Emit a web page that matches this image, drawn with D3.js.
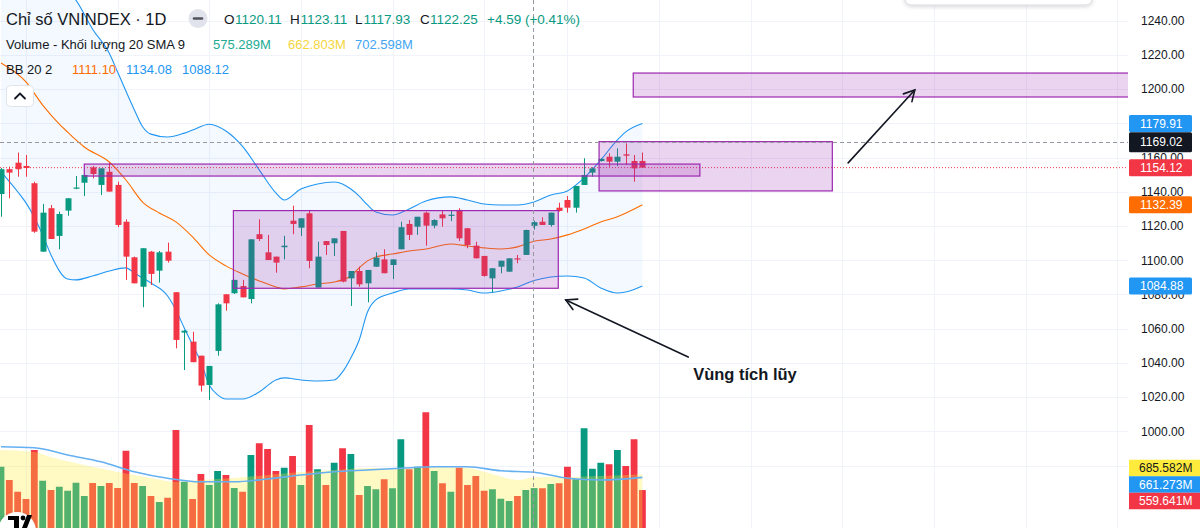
<!DOCTYPE html>
<html><head><meta charset="utf-8">
<script src="https://cdn.jsdelivr.net/npm/d3@7"></script>
<style>
body{margin:0;background:#fff;overflow:hidden;}
svg{display:block;font-family:"Liberation Sans",Arial,sans-serif;}
</style>
</head><body>
<svg id="c" width="1200" height="528"></svg>
<script>
// ---------------- DATA ----------------
const opens  = [1138.7,1153.2,1157.0,1155.1,1145.0,1105.0,1130.4,1114.2,1129.0,1142.2,1145.3,1154.3,1144.0,1151.7,1144.0,1122.5,1101.7,1084.5,1105.0,1093.9,1105.0,1081.3,1057.7,1052.4,1044.2,1027.1,1047.0,1080.1,1080.7,1084.9,1077.3,1115.2,1104.6,1102.1,1107.6,1123.1,1119.0,1127.4,1084.0,1111.2,1109.9,1117.1,1089.4,1093.7,1086.5,1096.2,1100.5,1097.2,1106.4,1121.2,1119.6,1127.8,1120.2,1126.8,1126.3,1129.4,1118.7,1108.5,1102.5,1089.4,1096.2,1093.3,1101.1,1103.1,1120.11,1122.5,1120.6,1130.7,1135.2,1130.7,1144.0,1151.2,1158.0,1160.5,1157.6,1161.9,1158.0,1158.0];
const highs  = [1153.9,1154.7,1162.9,1161.5,1145.9,1132.9,1132.3,1128.4,1136.2,1149.2,1149.8,1155.1,1153.7,1157.0,1145.9,1123.9,1102.1,1107.0,1105.4,1105.4,1110.3,1081.3,1059.2,1058.2,1044.2,1038.2,1074.8,1080.1,1088.5,1088.5,1112.2,1123.9,1114.8,1102.1,1114.3,1131.9,1124.5,1128.8,1110.8,1111.2,1112.8,1117.1,1093.7,1096.2,1094.3,1104.6,1106.4,1100.5,1122.5,1123.5,1125.4,1128.4,1123.9,1128.8,1128.8,1130.4,1118.7,1110.8,1102.5,1095.3,1099.7,1101.1,1103.1,1117.9,1123.11,1125.1,1127.8,1133.6,1137.5,1143.4,1159.6,1154.3,1159.6,1162.5,1165.4,1168.3,1161.5,1162.9];
const lows   = [1125.4,1136.2,1148.8,1148.8,1116.0,1105.0,1112.4,1106.4,1126.0,1141.5,1137.5,1147.9,1138.1,1140.1,1119.3,1088.5,1086.5,1072.5,1085.5,1086.9,1098.6,1048.5,1035.8,1040.4,1023.2,1018.3,1044.2,1070.5,1080.3,1078.3,1074.8,1111.2,1100.1,1092.7,1100.5,1115.2,1114.2,1095.3,1084.0,1103.1,1102.5,1087.1,1073.3,1084.5,1075.4,1096.2,1092.4,1089.0,1106.4,1111.8,1114.8,1108.5,1118.7,1119.6,1122.9,1111.2,1107.0,1101.1,1090.4,1081.1,1092.4,1093.3,1098.2,1103.1,1117.93,1120.6,1119.6,1128.4,1127.8,1127.8,1144.0,1148.8,1157.6,1154.7,1155.1,1155.7,1145.9,1154.0];
const closes = [1153.2,1151.2,1153.2,1153.9,1116.7,1127.8,1112.4,1127.0,1136.2,1142.5,1149.8,1150.4,1153.7,1140.1,1120.6,1102.1,1086.5,1107.0,1092.0,1104.6,1099.7,1053.4,1058.8,1040.4,1026.7,1038.2,1074.2,1074.8,1088.5,1078.3,1112.2,1112.4,1100.1,1098.6,1108.5,1121.2,1124.5,1099.6,1102.1,1108.9,1112.8,1087.5,1093.7,1085.9,1094.3,1101.5,1092.4,1100.5,1119.3,1114.8,1125.4,1120.2,1123.5,1124.5,1126.6,1112.8,1108.9,1101.1,1090.8,1095.3,1099.7,1101.1,1100.7,1117.66,1122.25,1120.6,1127.8,1128.8,1130.7,1143.4,1149.8,1153.7,1159.2,1157.6,1160.5,1161.1,1153.7,1154.12];
// volume in millions
const volumes = [746,640,546,488,880,634,560,586,554,618,512,616,592,616,576,874,616,592,512,464,498,1040,626,488,688,600,712,680,576,546,840,934,888,712,738,832,600,1080,726,600,778,894,848,520,592,566,646,574,966,726,746,1182,712,614,546,738,600,672,554,566,490,472,512,560,575.289,574,608,614,746,646,1054,730,778,766,880,752,966,559.641];

// Bollinger bands
const upperIdx = [0,4,7,9,11,13,14,16,17,18,20,22,23,25,27,29,31,33,34,36,38,40,41,42,43,44,45,47,49,51,54,56,58,60,62,64,66,68,70,72,74,75,77];
const upperVal = [1276,1263,1262,1252,1235,1221,1210,1188,1178,1173.7,1172.0,1174.3,1176.1,1179.5,1175.5,1166.5,1152.8,1139.3,1135.2,1141.6,1144.6,1145.7,1144.6,1141.6,1137.5,1132.3,1128.2,1126.4,1130.0,1134.6,1137.0,1135.2,1132.9,1132.3,1132.3,1134.08,1138.1,1140.5,1148.1,1158.6,1170.3,1175.0,1179.91];
const basisIdx = [0,3,5,7,8,9,10,13,15,17,19,21,23,25,27,29,31,33,34,36,38,40,41,42,43,44,45,47,49,51,54,56,58,60,62,64,66,68,70,72,74,77];
const basisVal = [1215.3,1204.2,1190.7,1179.6,1174.9,1170.3,1166.2,1157.4,1146.9,1134.0,1127.6,1122.4,1113.6,1103.1,1096.7,1092.0,1087.9,1084.4,1083.2,1084.4,1086.1,1087.3,1088.5,1090.8,1095.5,1099.6,1101.9,1103.6,1105.4,1106.6,1109.5,1108.3,1107.2,1106.6,1107.8,1111.10,1112.4,1114.8,1118.3,1122.4,1125.4,1132.39];
const lowerIdx = [0,2,3,5,6,8,9,11,13,15,16,18,20,21,22,23,24,25,26,27,29,31,33,34,36,38,40,41,42,43,44,45,47,49,51,54,56,58,60,62,64,66,68,70,72,74,75,77];
const lowerVal = [1151.6,1140.0,1133.5,1114.8,1103.1,1089.0,1088.5,1090.8,1093.7,1095.5,1092.5,1086.7,1079.1,1070.9,1060.4,1050.5,1040.5,1027.1,1021.3,1018.9,1018.9,1023.0,1030.0,1031.2,1030.0,1029.4,1030.0,1034.7,1042.9,1053.4,1069.7,1076.8,1080.8,1083.2,1083.2,1083.2,1082.6,1080.8,1082.0,1084.4,1088.12,1090.2,1090.8,1089.6,1083.8,1080.8,1081.4,1084.88];

// Volume moving averages (millions)
const volBlueIdx = [0,4,8,12,16,20,24,28,32,36,40,44,48,52,56,60,64,68,72,77];
const volBlue    = [906,898,840,786,706,654,626,626,648,680,706,720,734,746,746,714,702.598,654,640,661.273];
const volYellowIdx = [0,4,6,10,14,18,21,24,28,32,36,40,44,48,52,56,59,62,64,68,72,77];
const volYellow    = [880,864,824,760,704,656,624,640,656,680,704,720,736,736,744,736,688,640,662.803,664,672,685.582];

const priceTicks = [980,1000,1020,1040,1060,1080,1100,1120,1140,1160,1180,1200,1220,1240];
const timeGridIdx = [3,14,25,36,47,58,68,79,90,101,112,123,134];

// Crosshair
const crossIdx = 64;
const crossPrice = 1169.02;

// Drawings: [startIdx, endIdx, topPrice, bottomPrice]
const boxes = [
  [10, 83.9, 1156.2, 1149.2],
  [27.9, 66.9, 1129.0, 1083.6],
  [71.8, 99.8, 1169.3, 1140.5],
  [75.9, 140, 1209.4, 1195.4]
];
const arrowFrom = [[101.7, 1156.9], [82.5, 1043.4]];
const arrowTo   = [[109.7, 1199.5], [67.8, 1076.8]];
const noteText = "Vùng tích lũy";
const notePos = [83.1, 1030.0];

// ---------------- CHART ----------------
const PANE_R = 1128, H = 528;
const GREEN = "#089981", RED = "#f23645", BLUE = "#2196f3", ORANGE = "#ff6d00", TXT = "#131722";
const svg = d3.select("#c");
const x = d3.scaleLinear().domain([0, 77]).range([1.0, 642.4]);
const y = d3.scaleLinear().domain([1000, 1240]).range([431.3, 20.7]);
const yv = d3.scaleLinear().domain([0, 1000]).range([560, 435]);

const defs = svg.append("defs");
defs.append("clipPath").attr("id","pane").append("rect").attr("x",0).attr("y",0).attr("width",PANE_R).attr("height",H);
const f = defs.append("filter").attr("id","sh").attr("x","-30%").attr("y","-30%").attr("width","160%").attr("height","160%");
f.append("feDropShadow").attr("dx",0).attr("dy",1).attr("stdDeviation",2).attr("flood-color","#000").attr("flood-opacity",0.18);

const pane = svg.append("g").attr("clip-path","url(#pane)");

// grid
pane.append("g").selectAll("line").data(priceTicks).join("line")
  .attr("x1",0).attr("x2",PANE_R).attr("y1",d=>Math.round(y(d))+0.5).attr("y2",d=>Math.round(y(d))+0.5)
  .attr("stroke","#f0f3fa").attr("stroke-width",1);
pane.append("g").selectAll("line").data(timeGridIdx).join("line")
  .attr("x1",d=>Math.round(x(d))+0.5).attr("x2",d=>Math.round(x(d))+0.5).attr("y1",0).attr("y2",H)
  .attr("stroke","#f0f3fa").attr("stroke-width",1);

// BB fill
const pts = (idx, vals, sc) => idx.map((d,i)=>[x(d), sc(vals[i])]);
const lineGen = d3.line().curve(d3.curveMonotoneX);
const upPts = pts(upperIdx, upperVal, y), loPts = pts(lowerIdx, lowerVal, y), midPts = pts(basisIdx, basisVal, y);
const upD = lineGen(upPts);
const loRevD = lineGen(loPts.slice().reverse());
pane.append("path").attr("d", upD + loRevD.replace(/^M/,"L") + "Z").attr("fill","rgba(33,150,243,0.055)");

// volume bars
const idxs = d3.range(opens.length);
pane.append("g").selectAll("rect").data(idxs).join("rect")
  .attr("x", i=>x(i)-3.4).attr("width",6.8)
  .attr("y", i=>yv(volumes[i])).attr("height", i=>yv(0)-yv(volumes[i]))
  .attr("fill", i=> closes[i]>=opens[i] ? GREEN : RED);

// volume yellow MA area
const yelArea = d3.area().curve(d3.curveMonotoneX).x(d=>d[0]).y0(yv(0)).y1(d=>d[1]);
const yelPts = pts(volYellowIdx, volYellow, yv);
yelPts[0][0] = 0;
pane.append("path").attr("d", yelArea(yelPts)).attr("fill","#ffeb3b").attr("opacity",0.3);
// volume blue MA line
pane.append("path").attr("d", lineGen(pts(volBlueIdx, volBlue, yv))).attr("fill","none")
  .attr("stroke","#64b0f2").attr("stroke-width",1.6);

// BB lines
pane.append("path").attr("d", upD).attr("fill","none").attr("stroke",BLUE).attr("stroke-width",1.1);
pane.append("path").attr("d", lineGen(loPts)).attr("fill","none").attr("stroke",BLUE).attr("stroke-width",1.1);
pane.append("path").attr("d", lineGen(midPts)).attr("fill","none").attr("stroke",ORANGE).attr("stroke-width",1.1);

// candles
const cg = pane.append("g");
idxs.forEach(i=>{
  const col = closes[i]>=opens[i] ? GREEN : RED;
  const cx = Math.round(x(i));
  cg.append("line").attr("x1",cx+0.5).attr("x2",cx+0.5).attr("y1",y(highs[i])).attr("y2",y(lows[i]))
    .attr("stroke",col).attr("stroke-width",1);
  const t = y(Math.max(opens[i],closes[i])), b = y(Math.min(opens[i],closes[i]));
  cg.append("rect").attr("x",cx-2.5).attr("width",6).attr("y",t).attr("height",Math.max(1.2,b-t)).attr("fill",col);
});

// last price dotted line
pane.append("line").attr("x1",0).attr("x2",PANE_R).attr("y1",y(closes[closes.length-1])).attr("y2",y(closes[closes.length-1]))
  .attr("stroke",RED).attr("stroke-width",1).attr("stroke-dasharray","1,2");

// drawings: rectangles
pane.append("g").selectAll("rect").data(boxes).join("rect")
  .attr("x",d=>x(d[0])).attr("width",d=>x(d[1])-x(d[0]))
  .attr("y",d=>y(d[2])).attr("height",d=>y(d[3])-y(d[2]))
  .attr("fill","rgba(156,39,176,0.2)").attr("stroke","#9c27b0").attr("stroke-width",1.2);

// arrows
arrowFrom.forEach((a,k)=>{
  const x1=x(a[0]), y1=y(a[1]), x2=x(arrowTo[k][0]), y2=y(arrowTo[k][1]);
  const ang = Math.atan2(y2-y1, x2-x1), L = 12, sp = 0.5;
  const g = pane.append("g").attr("stroke",TXT).attr("stroke-width",1.6).attr("fill","none").attr("stroke-linecap","round");
  g.append("line").attr("x1",x1).attr("y1",y1).attr("x2",x2).attr("y2",y2);
  g.append("path").attr("d",`M${x2-L*Math.cos(ang-sp)},${y2-L*Math.sin(ang-sp)}L${x2},${y2}L${x2-L*Math.cos(ang+sp)},${y2-L*Math.sin(ang+sp)}`);
});
pane.append("text").attr("x",x(notePos[0])).attr("y",y(notePos[1])).text(noteText)
  .attr("font-size",16.5).attr("font-weight","bold").attr("fill",TXT);

// crosshair
pane.append("line").attr("x1",Math.round(x(crossIdx))-0.5).attr("x2",Math.round(x(crossIdx))-0.5).attr("y1",0).attr("y2",H)
  .attr("stroke","#9598a1").attr("stroke-width",1).attr("stroke-dasharray","4,3");
pane.append("line").attr("x1",0).attr("x2",PANE_R).attr("y1",Math.round(y(crossPrice))+0.5).attr("y2",Math.round(y(crossPrice))+0.5)
  .attr("stroke","#9598a1").attr("stroke-width",1).attr("stroke-dasharray","4,3");

// top-right popup edge
svg.append("rect").attr("x",905).attr("y",-14).attr("width",187).attr("height",19).attr("rx",6)
  .attr("fill","#fff").attr("stroke","#d6d9e0").attr("filter","url(#sh)");

// TradingView logo
const lg = svg.append("g");
lg.append("circle").attr("cx",17).attr("cy",531).attr("r",19).attr("fill","#fff").attr("filter","url(#sh)");
lg.append("path").attr("d","M8,516H19V528H14V520H8Z").attr("fill","#000");
lg.append("circle").attr("cx",23).attr("cy",518).attr("r",2.4).attr("fill","#000");
lg.append("path").attr("d","M27,515H32L27,528H22Z").attr("fill","#000");

// price axis
svg.append("g").selectAll("text").data(priceTicks).join("text")
  .attr("x",1141).attr("y",d=>y(d)+4.3).text(d=>d.toFixed(2))
  .attr("font-size",12).attr("fill",TXT);

const priceLabels = [
  {v: upperVal[upperVal.length-1], bg: BLUE, h:17},
  {v: crossPrice, bg: TXT, h:20},
  {v: closes[closes.length-1], bg: RED, h:17},
  {v: basisVal[basisVal.length-1], bg: ORANGE, h:17},
  {v: lowerVal[lowerVal.length-1], bg: BLUE, h:17}
];
priceLabels.forEach(l=>{
  const cy = y(l.v);
  svg.append("rect").attr("x",1129).attr("y",cy-l.h/2).attr("width",63).attr("height",l.h).attr("rx",1.5).attr("fill",l.bg);
  svg.append("text").attr("x",1140).attr("y",cy+4.3).text(l.v.toFixed(2)).attr("font-size",12).attr("fill","#fff");
});

// volume labels with stacking
const volLabels = [
  {v: volYellow[volYellow.length-1], bg:"#ffeb3b", fg:TXT},
  {v: volBlue[volBlue.length-1], bg: BLUE, fg:"#fff"},
  {v: volumes[volumes.length-1], bg: RED, fg:"#fff"}
].map(d=>({...d, cy: yv(d.v)})).sort((a,b)=>a.cy-b.cy);
const LH = 16.5;
for (let i=1;i<volLabels.length;i++) if (volLabels[i].cy < volLabels[i-1].cy+LH) volLabels[i].cy = volLabels[i-1].cy+LH;
const over = volLabels[volLabels.length-1].cy - 501;
if (over>0) volLabels.forEach(d=>d.cy-=over);
volLabels.forEach(l=>{
  svg.append("rect").attr("x",1129).attr("y",l.cy-LH/2).attr("width",71).attr("height",LH).attr("fill",l.bg);
  svg.append("text").attr("x",1139).attr("y",l.cy+4.3).text(l.v.toFixed(3)+"M").attr("font-size",12).attr("fill",l.fg);
});

// ---------------- LEGEND ----------------
const fmt2 = d3.format(".2f");
const leg = svg.append("g");
leg.append("text").attr("x",6).attr("y",24.5).text("Chỉ số VNINDEX · 1D").attr("font-size",16.5).attr("fill",TXT);
leg.append("circle").attr("cx",198).attr("cy",18.5).attr("r",9.5).attr("fill","#e0e3eb");
leg.append("line").attr("x1",194).attr("x2",202).attr("y1",18.5).attr("y2",18.5).attr("stroke","#50535e").attr("stroke-width",2.6).attr("stroke-linecap","round");

const ci = crossIdx;
const chg = closes[ci]-closes[ci-1];
const ohlc = [
  ["O",224,fmt2(opens[ci]),235],
  ["H",290,fmt2(highs[ci]),300.5],
  ["L",355,fmt2(lows[ci]),363.5],
  ["C",420,fmt2(closes[ci]),430]
];
ohlc.forEach(o=>{
  leg.append("text").attr("x",o[1]).attr("y",24).text(o[0]).attr("font-size",13.5).attr("fill",TXT);
  leg.append("text").attr("x",o[3]).attr("y",24).text(o[2]).attr("font-size",13.5).attr("fill",GREEN);
});
leg.append("text").attr("x",487).attr("y",24)
  .text(`${chg>=0?"+":""}${fmt2(chg)} (${chg>=0?"+":""}${fmt2(chg/closes[ci-1]*100)}%)`)
  .attr("font-size",13.5).attr("fill",GREEN);

const vAt = (idx, vals) => vals[idx.indexOf(ci)];
leg.append("text").attr("x",6).attr("y",49).text("Volume - Khối lượng 20 SMA 9").attr("font-size",13).attr("fill",TXT);
[[volumes[ci],213,"#22ab94"],[vAt(volYellowIdx,volYellow),288,"#f5d63d"],[vAt(volBlueIdx,volBlue),355,"#42a5f5"]].forEach(v=>{
  leg.append("text").attr("x",v[1]).attr("y",49).text(v[0].toFixed(3)+"M").attr("font-size",13).attr("fill",v[2]);
});
leg.append("text").attr("x",6).attr("y",74).text("BB 20 2").attr("font-size",13).attr("fill",TXT);
[[vAt(basisIdx,basisVal),72,ORANGE],[vAt(upperIdx,upperVal),126,BLUE],[vAt(lowerIdx,lowerVal),182,BLUE]].forEach(v=>{
  leg.append("text").attr("x",v[1]).attr("y",74).text(fmt2(v[0])).attr("font-size",13).attr("fill",v[2]);
});
leg.append("rect").attr("x",6.5).attr("y",85.5).attr("width",27).attr("height",21).attr("rx",4)
  .attr("fill","#fff").attr("stroke","#e0e3eb");
leg.append("path").attr("d","M15,98.5L20,93.5L25,98.5").attr("fill","none").attr("stroke",TXT).attr("stroke-width",1.8).attr("stroke-linecap","round");
</script>
</body></html>
